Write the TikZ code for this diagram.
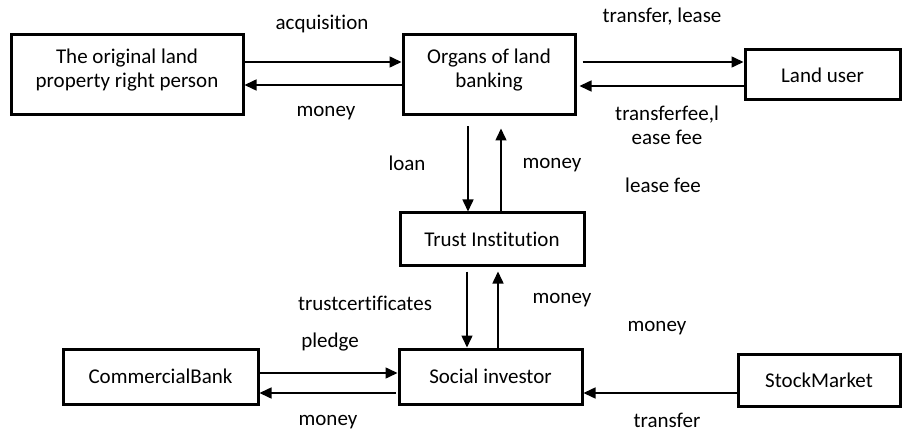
\documentclass[tikz,border=0pt]{standalone}
\usepackage{fontspec}
\setmainfont[Ligatures={NoCommon}]{Carlito}
\usetikzlibrary{arrows.meta}
\begin{document}
\begin{tikzpicture}[x=1pt,y=-1pt,
  box/.style={draw,line width=3pt,rectangle,inner sep=0pt,align=center,font=\fontsize{21}{24}\selectfont},
  lbl/.style={inner sep=0pt,align=center,font=\fontsize{21}{24}\selectfont},
  arr/.style={line width=1.5pt,-{Triangle[length=12pt,width=11pt]}}]
\useasboundingbox (0,0) rectangle (903,433);
\node[box,minimum width=232pt,minimum height=80pt] (orig) at (127,75) {};
\node[lbl] at (127,70) {The original land\\property right person};
\node[box,minimum width=172pt,minimum height=80pt] (organ) at (489,75) {};
\node[lbl] at (489,70) {Organs of land\\banking};
\node[box,minimum width=155pt,minimum height=50pt] (user) at (822.5,75) {Land user};
\node[box,minimum width=184pt,minimum height=52pt] (trust) at (492,239) {Trust Institution};
\node[box,minimum width=195pt,minimum height=55pt] (bank) at (160.5,376.5) {CommercialBank};
\node[box,minimum width=183pt,minimum height=55pt] (social) at (490.5,376.5) {Social investor};
\node[box,minimum width=162pt,minimum height=52pt] (stock) at (819,380) {StockMarket};
% arrows
\draw[arr] (orig.east |- 0,62) -- (organ.west |- 0,62);
\draw[arr] (organ.west |- 0,85) -- (orig.east |- 0,85);
\draw[arr] ([xshift=6pt]organ.east |- 0,62) -- (user.west |- 0,62);
\draw[arr] (user.west |- 0,86) -- ([xshift=3pt]organ.east |- 0,86);
\draw[arr] ([yshift=-10pt]organ.south -| 468,0) -- (trust.north -| 468,0);
\draw[arr] (trust.north -| 501,0) -- ([yshift=-12pt]organ.south -| 501,0);
\draw[arr] ([yshift=-5pt]trust.south -| 467,0) -- (social.north -| 467,0);
\draw[arr] (social.north -| 498,0) -- ([yshift=-5pt]trust.south -| 498,0);
\draw[arr] (bank.east |- 0,373) -- (social.west |- 0,373);
\draw[arr] ([xshift=-2pt]social.west |- 0,393) -- (bank.east |- 0,393);
\draw[arr] (stock.west |- 0,393) -- (social.east |- 0,393);
% labels
\node[lbl] (l1) at (322,24) {acquisition};
\node[lbl] (l2) at (326,113) {money};
\node[lbl] (l3) at (662,17) {transfer, lease};
\node[lbl] (l4) at (667,125) {transferfee,l\\ease fee};
\node[lbl] (l5) at (663,185) {lease fee};
\node[lbl] (l6) at (407,163) {loan};
\node[lbl] (l7) at (552,165) {money};
\node[lbl] (l8) at (365,303) {trustcertificates};
\node[lbl] (l9) at (330,342) {pledge};
\node[lbl] (l10) at (562,300) {money};
\node[lbl] (l11) at (657,328) {money};
\node[lbl] (l12) at (328,422) {money};
\node[lbl] (l13) at (667,420) {transfer};
\end{tikzpicture}
\end{document}
